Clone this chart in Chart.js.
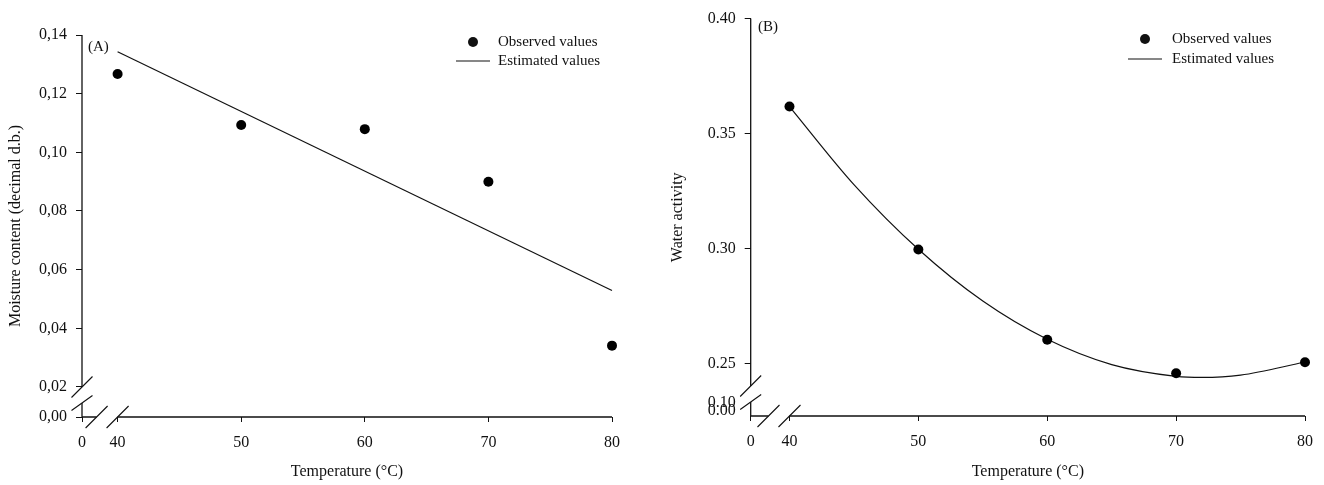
<!DOCTYPE html>
<html>
<head>
<meta charset="utf-8">
<script src="https://cdn.jsdelivr.net/npm/chart.js@4/dist/chart.umd.min.js"></script>
<style>
  html, body { margin: 0; padding: 0; background: #fff; width: 1324px; height: 485px; overflow: hidden; }
  canvas { position: absolute; top: 0; }
  #cA { left: 0; }
  #cB { left: 660px; }
</style>
</head>
<body>
<canvas id="cA" width="650" height="485"></canvas>
<canvas id="cB" width="664" height="485"></canvas>
<script>
// ---------- DATA ----------
const temperatures = [40, 50, 60, 70, 80];
const moistureObserved = [0.1267, 0.1093, 0.1079, 0.0900, 0.0341];
const moistureEstTemps = [40, 80];
const moistureEstimated = [0.1343, 0.0529];

const awObserved = [0.3618, 0.2997, 0.2605, 0.2459, 0.2507];
const awEstTemps = [40, 45, 50, 55, 60, 65, 70, 72, 75, 80];
const awEstimated = [0.3618, 0.3279, 0.2998, 0.2773, 0.2607, 0.2497, 0.2446, 0.2441, 0.2451, 0.2508];

const xTickValues = [40, 50, 60, 70, 80];
const xTickLabels = ['0', '40', '50', '60', '70', '80'];
const yTickValuesA = [0.02, 0.04, 0.06, 0.08, 0.10, 0.12, 0.14];
const yTickLabelsA = ['0,00', '0,02', '0,04', '0,06', '0,08', '0,10', '0,12', '0,14'];
const yTickValuesB = [0.25, 0.30, 0.35, 0.40];
const yTickLabelsB = ['0.00', '0.10', '0.25', '0.30', '0.35', '0.40'];
const legendLabels = ['Observed values', 'Estimated values'];
const panelLabels = ['(A)', '(B)'];
const xTitle = 'Temperature (°C)';
const yTitleA = 'Moisture content (decimal d.b.)';
const yTitleB = 'Water activity';

// ---------- STYLE ----------
const FONT = '"Liberation Serif", "Times New Roman", serif';
const INK = '#111';

function pts(xs, ys) { return xs.map((x, i) => ({ x: x, y: ys[i] })); }

// Broken axes, legend and panel label plugin
const decorPlugin = {
  id: 'decor',
  afterDraw(chart, args, o) {
    const ctx = chart.ctx;
    const xs = chart.scales.x, ys = chart.scales.y;
    const ax = xs.left, ay = ys.bottom;           // axis origin
    const top = ys.top, right = xs.right;
    const x40 = xs.getPixelForValue(40);
    const yBreakHi = ay - 30, yBreakLo = ay - 14;
    const xBreakLo = x40 - 21;
    ctx.save();
    ctx.strokeStyle = INK;
    ctx.lineWidth = 1.3;
    ctx.beginPath();
    // y axis segments
    ctx.moveTo(ax, top); ctx.lineTo(ax, yBreakHi);
    ctx.moveTo(ax, yBreakLo); ctx.lineTo(ax, ay);
    // x axis segments
    ctx.moveTo(ax, ay); ctx.lineTo(xBreakLo, ay);
    ctx.moveTo(x40, ay); ctx.lineTo(right, ay);
    ctx.stroke();
    // break slashes
    ctx.lineWidth = 1.1;
    ctx.beginPath();
    [[ax, yBreakHi, 10.5, 10.5], [ax, yBreakLo, 10.5, 7.5], [xBreakLo, ay, 11, 11], [x40, ay, 11, 11]].forEach(s => {
      ctx.moveTo(s[0] - s[2], s[1] + s[3]);
      ctx.lineTo(s[0] + s[2], s[1] - s[3]);
    });
    ctx.stroke();

    // panel label
    ctx.fillStyle = INK;
    ctx.font = '15px ' + FONT;
    ctx.textBaseline = 'middle';
    ctx.textAlign = 'left';
    ctx.fillText(o.panel, o.panelX, o.panelY);

    // legend
    ctx.beginPath();
    ctx.arc(o.legX + 17, o.legY, 5, 0, Math.PI * 2);
    ctx.fill();
    ctx.beginPath();
    ctx.lineWidth = 1.2;
    ctx.moveTo(o.legX, o.legY + o.legGap);
    ctx.lineTo(o.legX + 34, o.legY + o.legGap);
    ctx.stroke();
    ctx.fillText(legendLabels[0], o.legX + o.legText, o.legY);
    ctx.fillText(legendLabels[1], o.legX + o.legText, o.legY + o.legGap);
    ctx.restore();
  }
};

function makeChart(id, cfg) {
  const yTicks = cfg.yTicks;
  return new Chart(document.getElementById(id), {
    type: 'scatter',
    data: {
      datasets: [
        {
          label: legendLabels[0],
          data: pts(temperatures, cfg.obs),
          showLine: false,
          pointRadius: 5,
          pointBackgroundColor: '#000',
          pointBorderColor: '#000',
          pointBorderWidth: 0,
          clip: false,
          order: 0
        },
        {
          label: legendLabels[1],
          data: pts(cfg.estT, cfg.est),
          showLine: true,
          borderColor: INK,
          borderWidth: 1.2,
          pointRadius: 0,
          cubicInterpolationMode: 'monotone',
          fill: false,
          clip: false,
          order: 1
        }
      ]
    },
    options: {
      responsive: false,
      animation: false,
      events: [],
      layout: { padding: { top: cfg.padTop, right: cfg.padRight, left: 0, bottom: 0 } },
      plugins: {
        legend: { display: false },
        tooltip: { enabled: false },
        decor: cfg.decor
      },
      scales: {
        x: {
          type: 'linear',
          min: cfg.xMin, max: 80,
          afterBuildTicks: s => { s.ticks = [cfg.xMin].concat(xTickValues).map(v => ({ value: v })); },
          afterFit: s => { s.height = cfg.xHeight; },
          ticks: {
            autoSkip: false, maxRotation: 0, padding: 11,
            color: INK, font: { family: FONT, size: 16 },
            callback: (v, i) => xTickLabels[i]
          },
          grid: { drawOnChartArea: false, drawTicks: true, tickLength: 5, color: INK, lineWidth: 1 },
          border: { display: false },
          title: { display: true, text: xTitle, color: INK, font: { family: FONT, size: 16 }, padding: { top: 0, bottom: 4 } }
        },
        y: {
          type: 'linear',
          min: cfg.yMin, max: cfg.yMax,
          afterBuildTicks: s => { s.ticks = cfg.yExtra.concat(yTicks).map(v => ({ value: v })); },
          afterFit: s => { s.width = cfg.yWidth; },
          ticks: {
            autoSkip: false, padding: 9,
            color: INK, font: { family: FONT, size: 16 },
            callback: (v, i) => cfg.yLabels[i]
          },
          grid: {
            drawOnChartArea: false, drawTicks: true, tickLength: 6, lineWidth: 1,
            tickColor: c => (cfg.hideTicks && c.index < 2) ? 'rgba(0,0,0,0)' : INK,
            color: INK
          },
          border: { display: false },
          title: { display: true, text: cfg.yTitle, color: INK, font: { family: FONT, size: 16 }, padding: { top: cfg.yTitlePad, bottom: 0 } }
        }
      }
    },
    plugins: [decorPlugin]
  });
}

makeChart('cA', {
  obs: moistureObserved, estT: moistureEstTemps, est: moistureEstimated,
  xMin: 37.12, yMin: 0.00977, yMax: 0.14,
  yExtra: [0.00977], yTicks: yTickValuesA, yLabels: yTickLabelsA, hideTicks: false,
  yTitle: yTitleA, yTitlePad: 6,
  padTop: 35, padRight: 38, xHeight: 68, yWidth: 82,
  decor: { panel: panelLabels[0], panelX: 88, panelY: 47, legX: 456, legY: 42, legGap: 19, legText: 42 }
});

makeChart('cB', {
  obs: awObserved, estT: awEstTemps, est: awEstimated,
  xMin: 36.99, yMin: 0.22735, yMax: 0.40,
  yExtra: [0.2295, 0.2330], yTicks: yTickValuesB, yLabels: yTickLabelsB, hideTicks: true,
  yTitle: yTitleB, yTitlePad: 8,
  padTop: 15.7, padRight: 17.3, xHeight: 69, yWidth: 90.7,
  decor: { panel: panelLabels[1], panelX: 98, panelY: 27, legX: 468, legY: 39, legGap: 20, legText: 44 }
});
</script>
</body>
</html>
